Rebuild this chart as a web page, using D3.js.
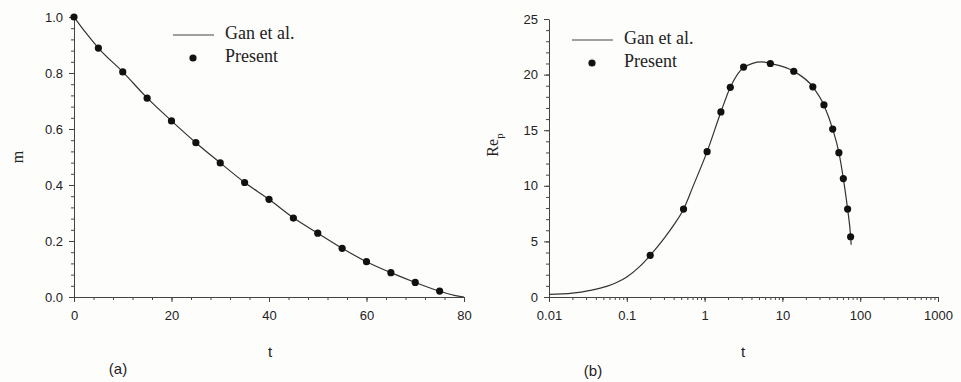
<!DOCTYPE html>
<html>
<head>
<meta charset="utf-8">
<script src="https://cdn.jsdelivr.net/npm/d3@7"></script>
<style>
  body { margin: 0; background: #fdfdfc; }
  svg { display: block; }
  .tick text { font-family: "Liberation Sans", Arial, sans-serif; font-size: 13px; fill: #222; }
  .domain, .tick line { stroke: #444; }
</style>
</head>
<body>
<script>
// panel (a): mass m vs t
var mLineT = [0, 2.5, 5, 10, 15, 20, 25, 30, 35, 40, 45, 50, 55, 60, 65, 70, 75, 78, 80];
var mLineV = [1.0, 0.942, 0.889, 0.804, 0.711, 0.629, 0.551, 0.479, 0.409, 0.349, 0.283, 0.228, 0.174, 0.126, 0.087, 0.052, 0.021, 0.006, 0.0];
var mDotT = [0, 5, 10, 15, 20, 25, 30, 35, 40, 45, 50, 55, 60, 65, 70, 75];
var mDotV = [1.0, 0.889, 0.804, 0.71, 0.629, 0.551, 0.479, 0.409, 0.349, 0.282, 0.228, 0.174, 0.126, 0.087, 0.052, 0.021];
var xTicksA = [0, 20, 40, 60, 80];
var yTicksA = [0.0, 0.2, 0.4, 0.6, 0.8, 1.0];

// panel (b): Re_p vs t (log)
var reLineT = [0.01, 0.02, 0.034, 0.055, 0.074, 0.1, 0.147, 0.2, 0.3, 0.4, 0.536, 0.71, 1.077, 1.62, 2.14, 3.17, 5.4, 7.0, 14, 24.6, 34.2, 44.3, 53.2, 60.7, 68.9, 75.3, 76.5];
var reLineV = [0.24, 0.35, 0.6, 0.95, 1.3, 1.8, 2.75, 3.75, 5.25, 6.46, 7.9, 9.95, 13.07, 16.64, 18.86, 20.62, 21.15, 21.0, 20.3, 18.9, 17.25, 15.1, 13.0, 10.65, 7.9, 5.45, 4.7];
var reDotT = [0.2, 0.536, 1.077, 1.62, 2.14, 3.17, 7.0, 14, 24.6, 34.2, 44.3, 53.2, 60.7, 68.9, 75.3];
var reDotV = [3.75, 7.91, 13.07, 16.64, 18.86, 20.68, 21.0, 20.3, 18.9, 17.27, 15.1, 12.98, 10.65, 7.91, 5.42];
var xTicksB = [0.01, 0.1, 1, 10, 100, 1000];
var yTicksB = [0, 5, 10, 15, 20, 25];

var W = 961, H = 382;
var svg = d3.select("body").append("svg").attr("width", W).attr("height", H);

function serifText(g, x, y, s) {
  return g.append("text").attr("x", x).attr("y", y)
    .attr("dominant-baseline", "middle")
    .style("font-family", "'Liberation Serif', 'Times New Roman', serif")
    .style("font-size", "18px").style("fill", "#222").text(s);
}

function legend(x0, y0) {
  svg.append("line").attr("x1", x0).attr("x2", x0 + 41).attr("y1", y0).attr("y2", y0)
    .attr("stroke", "#444").attr("stroke-width", 1.2);
  serifText(svg, x0 + 52, y0, "Gan et al.");
  svg.append("circle").attr("cx", x0 + 20).attr("cy", y0 + 23).attr("r", 3.6).attr("fill", "#111");
  serifText(svg, x0 + 52, y0 + 23, "Present");
}

function drawAxes(x, y, xt, yt, xMinor, yMinor, xfmt, yfmt) {
  var h = y.range()[0];
  var x0 = x.range()[0];
  svg.append("g").attr("transform", "translate(0," + h + ")")
    .call(d3.axisBottom(x).tickValues(xMinor).tickSize(3).tickFormat(""))
    .call(g => g.select(".domain").remove());
  svg.append("g").attr("transform", "translate(" + x0 + ",0)")
    .call(d3.axisLeft(y).tickValues(yMinor).tickSize(3).tickFormat(""))
    .call(g => g.select(".domain").remove());
  svg.append("g").attr("transform", "translate(0," + h + ")")
    .call(d3.axisBottom(x).tickValues(xt).tickSize(5).tickSizeOuter(0).tickPadding(9).tickFormat(xfmt));
  svg.append("g").attr("transform", "translate(" + x0 + ",0)")
    .call(d3.axisLeft(y).tickValues(yt).tickSize(5).tickSizeOuter(0).tickPadding(6).tickFormat(yfmt));
}

// ---- panel (a)
var xa = d3.scaleLinear().domain([0, 80]).range([74, 464]);
var ya = d3.scaleLinear().domain([0, 1]).range([297, 17]);
drawAxes(xa, ya, xTicksA, yTicksA, d3.range(0, 81, 4), d3.range(0, 1.001, 0.04),
  d3.format("d"), d3.format(".1f"));

svg.append("path").datum(mLineT.map((t, i) => [t, mLineV[i]]))
  .attr("fill", "none").attr("stroke", "#333").attr("stroke-width", 1.2)
  .attr("d", d3.line().x(d => xa(d[0])).y(d => ya(d[1])).curve(d3.curveMonotoneX));
svg.selectAll("circle.a").data(mDotT).enter().append("circle").attr("class", "a")
  .attr("cx", d => xa(d)).attr("cy", (d, i) => ya(mDotV[i])).attr("r", 3.6).attr("fill", "#111");

legend(173, 35);

svg.append("text").attr("x", 270).attr("y", 357).attr("text-anchor", "middle")
  .style("font-family", "'Liberation Sans', Arial, sans-serif").style("font-size", "15px").style("fill", "#222").text("t");
svg.append("text").attr("transform", "translate(23,157) rotate(-90)").attr("text-anchor", "middle")
  .style("font-family", "'Liberation Serif', 'Times New Roman', serif").style("font-size", "16px").style("fill", "#222").text("m");
svg.append("text").attr("x", 118).attr("y", 374).attr("text-anchor", "middle")
  .style("font-family", "'Liberation Sans', Arial, sans-serif").style("font-size", "15px").style("fill", "#222").text("(a)");

// ---- panel (b)
var xb = d3.scaleLog().domain([0.01, 1000]).range([549, 938]);
var yb = d3.scaleLinear().domain([0, 25]).range([297, 19]);
var minorB = [];
[0.01, 0.1, 1, 10, 100].forEach(function(dec) {
  for (var k = 1; k <= 10; k++) minorB.push(dec * k);
});
drawAxes(xb, yb, xTicksB, yTicksB, minorB, d3.range(0, 26, 1),
  d => (d < 1 ? String(d) : d3.format("d")(d)), d3.format("d"));

svg.append("path").datum(reLineT.map((t, i) => [t, reLineV[i]]))
  .attr("fill", "none").attr("stroke", "#333").attr("stroke-width", 1.2)
  .attr("d", d3.line().x(d => xb(d[0])).y(d => yb(d[1])).curve(d3.curveMonotoneX));
svg.selectAll("circle.b").data(reDotT).enter().append("circle").attr("class", "b")
  .attr("cx", d => xb(d)).attr("cy", (d, i) => yb(reDotV[i])).attr("r", 3.6).attr("fill", "#111");

legend(572, 40);

svg.append("text").attr("x", 743).attr("y", 357).attr("text-anchor", "middle")
  .style("font-family", "'Liberation Sans', Arial, sans-serif").style("font-size", "15px").style("fill", "#222").text("t");
var lab = svg.append("text").attr("transform", "translate(498,145) rotate(-90)").attr("text-anchor", "middle")
  .style("font-family", "'Liberation Serif', 'Times New Roman', serif").style("font-size", "16px").style("fill", "#222");
lab.append("tspan").text("Re");
lab.append("tspan").attr("dy", 5).style("font-size", "11px").text("p");
svg.append("text").attr("x", 593).attr("y", 376).attr("text-anchor", "middle")
  .style("font-family", "'Liberation Sans', Arial, sans-serif").style("font-size", "15px").style("fill", "#222").text("(b)");
</script>
</body>
</html>
